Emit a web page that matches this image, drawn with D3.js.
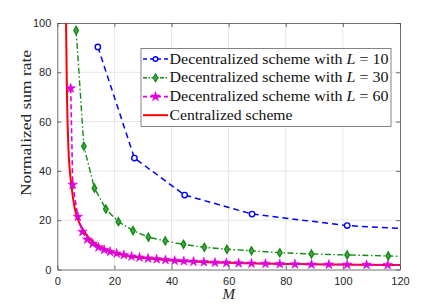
<!DOCTYPE html>
<html>
<head>
<meta charset="utf-8">
<script src="https://cdn.jsdelivr.net/npm/d3@7"></script>
<style>
  body { margin: 0; background: #fff; }
  svg { display: block; }
</style>
</head>
<body>
<div id="chart"></div>
<script>
// values
var xTicks = [0, 20, 40, 60, 80, 100, 120];
var yTicks = [0, 20, 40, 60, 80, 100];

var blueM = [14.2, 27, 44.6, 68.2, 101.5, 120];
var blueR = [90.3, 45.2, 30.2, 22.5, 17.8, 16.7];

var greenM = [6.6, 9.3, 13, 17, 21.4, 26.5, 31.9, 37.8, 44.2, 51.5, 59.4, 68, 77.9, 89, 101.5, 115.9, 120];
var greenR = [97, 50, 33, 24.5, 19.4, 15.8, 13.1, 11.6, 10.2, 9.0, 8.2, 7.6, 6.8, 6.3, 5.9, 5.5, 5.35];

var magM = [4.7, 5.4, 7.2, 8.8, 10.5, 12.4, 14.4, 16.4, 18.5, 20.8, 23.3, 26, 28.8, 31.8, 34.8, 37.9,
            41.1, 44.3, 47.7, 51.3, 55.2, 59.2, 63.5, 68, 72.9, 77.9, 83.2, 89, 95.1, 101.5, 108.3, 115.7, 120];
var magR = [73.5, 34.4, 21.4, 15.3, 12.2, 10.5, 9.0, 8.0, 7.2, 6.5, 5.9, 5.3, 4.9, 4.5, 4.2, 3.9,
            3.6, 3.4, 3.2, 3.0, 2.8, 2.7, 2.55, 2.45, 2.35, 2.25, 2.15, 2.05, 2.0, 1.95, 1.9, 1.85, 1.8];

var redM = [3.0, 3.4, 3.86, 4.4, 5.05, 6, 7, 8.3, 9.7, 11, 12.6, 15, 17.3, 20, 23, 26.7, 30, 35, 40, 50, 60, 70, 80, 90, 100, 110, 120];
var redR = [105, 70, 50, 40, 33, 25.5, 21, 17.5, 15, 12.8, 11.1, 9.2, 7.9, 6.8, 5.9, 5.2, 4.7, 4.2, 3.6, 3.1, 2.7, 2.45, 2.25, 2.1, 2.0, 1.9, 1.8];

var legendLabels = ["Decentralized scheme with ", "Decentralized scheme with ", "Decentralized scheme with ", "Centralized scheme"];
var legendL = ["10", "30", "60", null];

var W = 443, H = 305;
var mLeft = 57.3, mRight = 400, mTop = 23, mBottom = 269.5;

var svg = d3.select("#chart").append("svg")
  .attr("width", W)
  .attr("height", H);

var x = d3.scaleLinear().domain([0, 120]).range([mLeft, mRight]);
var y = d3.scaleLinear().domain([0, 100]).range([mBottom, mTop]);

// grid
svg.append("g").selectAll("line")
  .data(xTicks.slice(1, -1))
  .enter().append("line")
    .attr("x1", function(d) { return x(d); })
    .attr("x2", function(d) { return x(d); })
    .attr("y1", mTop).attr("y2", mBottom)
    .attr("stroke", "#e6e6e6").attr("stroke-width", 1);
svg.append("g").selectAll("line")
  .data(yTicks.slice(1, -1))
  .enter().append("line")
    .attr("y1", function(d) { return y(d); })
    .attr("y2", function(d) { return y(d); })
    .attr("x1", mLeft).attr("x2", mRight)
    .attr("stroke", "#e6e6e6").attr("stroke-width", 1);

// axes (matlab style, ticks inward, box on)
var axisColor = "#4d4d4d";
var xAxis = svg.append("g")
  .attr("transform", "translate(0," + mBottom + ")")
  .call(d3.axisBottom(x).tickValues(xTicks).tickSizeInner(-4).tickSizeOuter(0).tickPadding(8));
var yAxis = svg.append("g")
  .attr("transform", "translate(" + mLeft + ",0)")
  .call(d3.axisLeft(y).tickValues(yTicks).tickSizeInner(-4).tickSizeOuter(0).tickPadding(6));
var xAxisTop = svg.append("g")
  .attr("transform", "translate(0," + mTop + ")")
  .call(d3.axisTop(x).tickValues(xTicks).tickSizeInner(-4).tickSizeOuter(0).tickFormat(""));
var yAxisRight = svg.append("g")
  .attr("transform", "translate(" + mRight + ",0)")
  .call(d3.axisRight(y).tickValues(yTicks).tickSizeInner(-4).tickSizeOuter(0).tickFormat(""));

[xAxis, yAxis, xAxisTop, yAxisRight].forEach(function(a) {
  a.selectAll("path").attr("stroke", axisColor).attr("stroke-width", 0.8);
  a.selectAll("line").attr("stroke", axisColor).attr("stroke-width", 0.8);
  a.selectAll("text")
    .attr("fill", "#262626")
    .style("font-family", "Liberation Sans, Arial, sans-serif")
    .style("font-size", "11px");
});

// clip for curves
svg.append("clipPath").attr("id", "plotclip")
  .append("rect")
    .attr("x", mLeft).attr("y", mTop)
    .attr("width", mRight - mLeft).attr("height", mBottom - mTop);

var plot = svg.append("g").attr("clip-path", "url(#plotclip)");

function pts(ms, rs) {
  return ms.map(function(m, i) { return [m, rs[i]]; });
}

var line = d3.line()
  .x(function(d) { return x(d[0]); })
  .y(function(d) { return y(d[1]); });

var smooth = d3.line()
  .curve(d3.curveMonotoneX)
  .x(function(d) { return x(d[0]); })
  .y(function(d) { return y(d[1]); });

var blue = "#0000ff", green = "#138a13", magenta = "#dd00dd", red = "#ff0000";

// red centralized
plot.append("path")
  .datum(pts(redM, redR))
  .attr("d", smooth)
  .attr("fill", "none")
  .attr("stroke", red)
  .attr("stroke-width", 2);

// magenta L=60
plot.append("path")
  .datum(pts(magM, magR))
  .attr("d", line)
  .attr("fill", "none")
  .attr("stroke", magenta)
  .attr("stroke-width", 1.6)
  .attr("stroke-dasharray", "5,3");

// green L=30
plot.append("path")
  .datum(pts(greenM, greenR))
  .attr("d", line)
  .attr("fill", "none")
  .attr("stroke", green)
  .attr("stroke-width", 1.4)
  .attr("stroke-dasharray", "6,2.5,1.5,2.5");

// blue L=10
plot.append("path")
  .datum(pts(blueM, blueR))
  .attr("d", line)
  .attr("fill", "none")
  .attr("stroke", blue)
  .attr("stroke-width", 1.5)
  .attr("stroke-dasharray", "6,4");

var star = d3.symbol().type(d3.symbolStar).size(28);
var diamond = d3.symbol().type(d3.symbolDiamond).size(18);

// markers (last point of each decentralized series has none)
plot.append("g").selectAll("path")
  .data(pts(magM, magR).slice(0, -1))
  .enter().append("path")
    .attr("d", star)
    .attr("transform", function(d) { return "translate(" + x(d[0]) + "," + y(d[1]) + ")"; })
    .attr("fill", magenta)
    .attr("stroke", magenta)
    .attr("stroke-width", 0.6);

plot.append("g").selectAll("path")
  .data(pts(greenM, greenR).slice(0, -1))
  .enter().append("path")
    .attr("d", diamond)
    .attr("transform", function(d) { return "translate(" + x(d[0]) + "," + y(d[1]) + ")"; })
    .attr("fill", "#4aa84a")
    .attr("stroke", green)
    .attr("stroke-width", 1.4);

plot.append("g").selectAll("circle")
  .data(pts(blueM, blueR).slice(0, -1))
  .enter().append("circle")
    .attr("cx", function(d) { return x(d[0]); })
    .attr("cy", function(d) { return y(d[1]); })
    .attr("r", 2.7)
    .attr("fill", "#fff")
    .attr("stroke", blue)
    .attr("stroke-width", 1.4);

// axis labels
svg.append("text")
  .attr("x", (mLeft + mRight) / 2)
  .attr("y", 299)
  .attr("text-anchor", "middle")
  .style("font-family", "Liberation Serif, serif")
  .style("font-style", "italic")
  .style("font-size", "15px")
  .attr("fill", "#262626")
  .text("M");

svg.append("text")
  .attr("transform", "translate(31,123) rotate(-90)")
  .attr("text-anchor", "middle")
  .attr("textLength", 146)
  .attr("lengthAdjust", "spacingAndGlyphs")
  .style("font-family", "Liberation Serif, serif")
  .style("font-size", "14.5px")
  .attr("fill", "#262626")
  .text("Normalized sum rate");

// legend
var lg = svg.append("g");
lg.append("rect")
  .attr("x", 141).attr("y", 48.5)
  .attr("width", 250).attr("height", 78)
  .attr("fill", "#fff")
  .attr("stroke", "#666")
  .attr("stroke-width", 0.8);

var rowsY = [59, 77.8, 96.6, 115.2];
var textW = [219, 219, 219, 123];
var styles = [
  {c: blue, dash: "4,3", w: 1.5, m: "circle"},
  {c: green, dash: "4,1.5,1.5,1.5", w: 1.4, m: "diamond"},
  {c: magenta, dash: "4,3", w: 1.6, m: "star"},
  {c: red, dash: null, w: 2, m: null}
];

legendLabels.forEach(function(lbl, i) {
  var yy = rowsY[i], s = styles[i];
  lg.append("line")
    .attr("x1", 143).attr("x2", 168)
    .attr("y1", yy).attr("y2", yy)
    .attr("stroke", s.c)
    .attr("stroke-width", s.w)
    .attr("stroke-dasharray", s.dash);
  if (s.m === "circle") {
    lg.append("circle").attr("cx", 155.5).attr("cy", yy).attr("r", 2.3)
      .attr("fill", "#fff").attr("stroke", s.c).attr("stroke-width", 1.4);
  } else if (s.m === "diamond") {
    lg.append("path").attr("d", diamond).attr("transform", "translate(155.5," + yy + ")")
      .attr("fill", "#4aa84a").attr("stroke", s.c).attr("stroke-width", 1.2);
  } else if (s.m === "star") {
    lg.append("path").attr("d", star).attr("transform", "translate(155.5," + yy + ")")
      .attr("fill", s.c).attr("stroke", s.c).attr("stroke-width", 0.6);
  }
  var t = lg.append("text")
    .attr("x", 169.5).attr("y", yy + 4.5)
    .attr("textLength", textW[i])
    .attr("lengthAdjust", "spacingAndGlyphs")
    .style("font-family", "Liberation Serif, serif")
    .style("font-size", "14.5px")
    .attr("fill", "#111")
    .text(lbl);
  if (legendL[i]) {
    t.append("tspan").style("font-style", "italic").text("L");
    t.append("tspan").text(" = " + legendL[i]);
  }
});
</script>
</body>
</html>
